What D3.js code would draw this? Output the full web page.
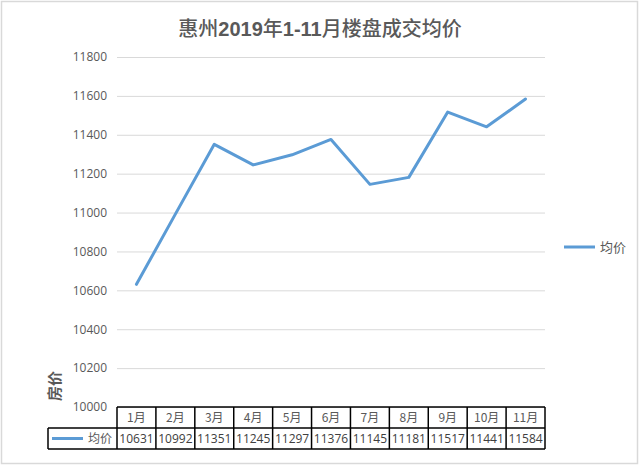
<!DOCTYPE html>
<html><head><meta charset="utf-8">
<script src="https://cdn.jsdelivr.net/npm/d3@7"></script>
<style>body{margin:0;background:#fff}svg{display:block}</style>
</head><body>
<script>
const categories = ["1月","2月","3月","4月","5月","6月","7月","8月","9月","10月","11月"];
const values = [10631,10992,11351,11245,11297,11376,11145,11181,11517,11441,11584];
const yTicks = [10000,10200,10400,10600,10800,11000,11200,11400,11600,11800];
const seriesName = "均价";
const titleParts = [["惠州",false],["2019",true],["年",false],["1-11",true],["月楼盘成交均价",false]];
const yTitle = "房价";

(function(){
const W = 640, H = 467;
const pl = 117, pr = 545, pt = 57, pb = 407;
const rowH = 21;
const color = "#5B9BD5";
const font = "'Noto Sans CJK SC','Noto Sans',sans-serif";

const svg = d3.select("body").append("svg").attr("width", W).attr("height", H);
svg.append("rect").attr("x",1.5).attr("y",1.5).attr("width",W-4).attr("height",H-5)
  .attr("fill","#fff").attr("stroke","#d9d9d9").attr("stroke-width",1.5);

const x = d3.scaleBand().domain(categories).range([pl, pr]).padding(0);
const y = d3.scaleLinear().domain([10000, 11800]).range([pb, pt]);

// title
const t = svg.append("text").attr("x", 320).attr("y", 36).attr("text-anchor","middle")
  .attr("fill","#595959").attr("font-size",20).attr("font-family",font);
titleParts.forEach(([s,b]) => t.append("tspan").text(s).attr("font-weight", b ? "bold" : "500")
  .attr("font-family", b ? "'Liberation Sans',Arial,sans-serif" : font));

// gridlines + axis
const yAxis = d3.axisLeft(y).tickValues(yTicks).tickSize(-(pr-pl)).tickPadding(10).tickFormat(d3.format("d"));
const ga = svg.append("g").attr("transform",`translate(${pl},0)`).call(yAxis);
ga.select(".domain").remove();
ga.selectAll(".tick line").attr("stroke","#d9d9d9").attr("stroke-width",1);
ga.selectAll(".tick text").attr("fill","#595959").attr("font-size",12).attr("font-family","'Open Sans','Noto Sans',sans-serif");

// y title
svg.append("text").attr("transform",`translate(60,386) rotate(-90)`).attr("text-anchor","middle")
  .attr("fill","#595959").attr("font-size",15).attr("font-weight","bold").attr("font-family",font).text(yTitle);

// line
const line = d3.line().x((d,i)=>x(categories[i]) + x.bandwidth()/2).y(d=>y(d));
svg.append("path").datum(values).attr("d", line).attr("fill","none")
  .attr("stroke", color).attr("stroke-width",3).attr("stroke-linejoin","round").attr("stroke-linecap","round");

// legend
svg.append("line").attr("x1",564).attr("x2",595).attr("y1",247).attr("y2",247)
  .attr("stroke",color).attr("stroke-width",3);
svg.append("text").attr("x",600).attr("y",252).attr("fill","#595959").attr("font-size",13)
  .attr("font-family",font).text(seriesName);

// data table
const tg = svg.append("g");
const tx = d => x(d) + x.bandwidth()/2;
tg.selectAll("text.hdr").data(categories).join("text").attr("class","hdr")
  .attr("x", tx).attr("y", pb + 15).attr("text-anchor","middle")
  .attr("fill","#595959").attr("font-size",12).attr("font-family",font).text(d=>d);
tg.selectAll("text.val").data(values).join("text").attr("class","val")
  .attr("x", (d,i)=>tx(categories[i])).attr("y", pb + rowH + 15).attr("text-anchor","middle")
  .attr("fill","#404040").attr("font-size",12).attr("font-family","'Open Sans','Noto Sans',sans-serif").text(d=>d);
const lx = 48;
tg.append("line").attr("x1",52).attr("x2",83).attr("y1",pb+rowH+10.5).attr("y2",pb+rowH+10.5)
  .attr("stroke",color).attr("stroke-width",3);
tg.append("text").attr("x",88).attr("y",pb+rowH+15).attr("fill","#595959").attr("font-size",12)
  .attr("font-family",font).text(seriesName);
const bc = "#000", bw = 1.5;
tg.append("line").attr("x1",pl).attr("x2",pr).attr("y1",pb).attr("y2",pb).attr("stroke",bc).attr("stroke-width",bw);
tg.append("line").attr("x1",lx).attr("x2",pr).attr("y1",pb+rowH).attr("y2",pb+rowH).attr("stroke",bc).attr("stroke-width",bw);
tg.append("line").attr("x1",lx).attr("x2",pr).attr("y1",pb+2*rowH).attr("y2",pb+2*rowH).attr("stroke",bc).attr("stroke-width",bw);
tg.append("line").attr("x1",lx).attr("x2",lx).attr("y1",pb+rowH).attr("y2",pb+2*rowH).attr("stroke",bc).attr("stroke-width",bw);
const vx = categories.map(c=>x(c)).concat([pr]);
tg.selectAll("line.v").data(vx).join("line").attr("class","v")
  .attr("x1",d=>d).attr("x2",d=>d).attr("y1",pb).attr("y2",pb+2*rowH).attr("stroke",bc).attr("stroke-width",bw);
})();
</script>
</body></html>
